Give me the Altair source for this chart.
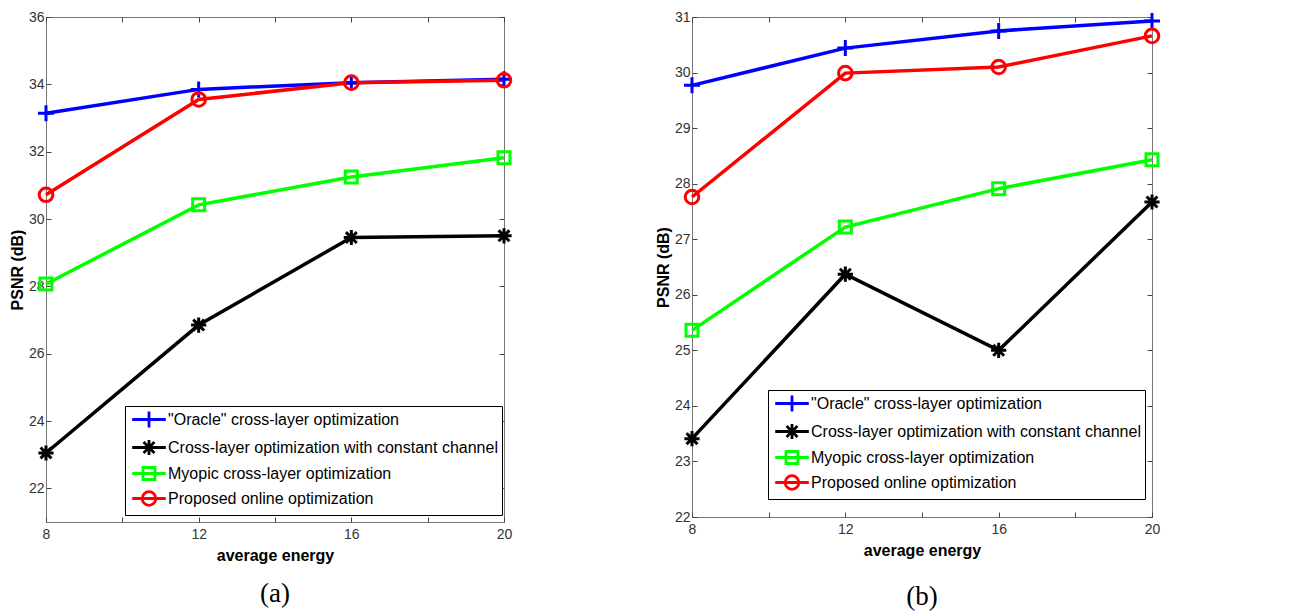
import altair as alt
import pandas as pd

energy = [8, 12, 16, 20]
series_names = [
    '"Oracle" cross-layer optimization',
    "Cross-layer optimization with constant channel",
    "Myopic cross-layer optimization",
    "Proposed online optimization",
]
series_colors = ["#0000FF", "#000000", "#00FF00", "#FF0000"]

# panel (a)
a_oracle = [33.14, 33.85, 34.05, 34.15]
a_constant = [23.05, 26.85, 29.45, 29.50]
a_myopic = [28.07, 30.42, 31.25, 31.82]
a_online = [30.72, 33.55, 34.05, 34.12]

# panel (b)
b_oracle = [29.77, 30.44, 30.75, 30.93]
b_constant = [23.41, 26.37, 25.00, 27.67]
b_myopic = [25.36, 27.22, 27.91, 28.43]
b_online = [27.76, 29.99, 30.10, 30.66]

x_ticks = [8, 10, 12, 14, 16, 18, 20]
a_y_ticks = [22, 24, 26, 28, 30, 32, 34, 36]
b_y_ticks = [22, 23, 24, 25, 26, 27, 28, 29, 30, 31]

# marker paths (unit = sqrt(size)/2 px)
marker_paths = [
    "M-1,0H1M0,-1V1",
    "M-0.95,0H0.95M0,-0.95V0.95M-0.68,-0.68L0.68,0.68M-0.68,0.68L0.68,-0.68",
    "M-0.75,-0.75H0.75V0.75H-0.75Z",
    "M-0.85,0A0.85,0.85 0 1,1 0.85,0A0.85,0.85 0 1,1 -0.85,0Z",
]
legend_paths = ["M-2.1,0H2.1" + p for p in marker_paths]


def build_df(values):
    rows = []
    for name, vals in zip(series_names, values):
        for e, v in zip(energy, vals):
            rows.append({"energy": e, "psnr": v, "series": name})
    return pd.DataFrame(rows)


SANS = "Liberation Sans, Arial, Helvetica, sans-serif"
TICK_COLOR = "#333333"


def panel(values, ydomain, yticks, W, H, lx, ly, caption, cap_offset):
    df = build_df(values)
    xscale = alt.Scale(domain=[8, 20], nice=False, zero=False)
    yscale = alt.Scale(domain=ydomain, nice=False, zero=False)
    cscale = alt.Scale(domain=series_names, range=series_colors)
    lshape = alt.Scale(domain=series_names, range=legend_paths)
    legend = alt.Legend(
        title=None, orient="none", legendX=lx, legendY=ly, direction="vertical",
        strokeColor="black", fillColor="white", padding=4, rowPadding=0,
        labelFont=SANS, labelFontSize=16, labelColor="black", labelLimit=0,
        symbolSize=256, symbolStrokeWidth=2.8, symbolOffset=10.5, labelOffset=9.5,
        symbolFillColor="transparent", symbolOpacity=1,
    )
    common_axis = dict(domain=False, grid=False, tickColor="#444444", tickSize=5,
                       offset=-5)
    label_props = dict(labelFont=SANS, labelFontSize=14, labelColor=TICK_COLOR)
    x_bottom = alt.Axis(orient="bottom", values=x_ticks,
                        labelExpr="datum.value % 4 == 0 ? datum.label : ''",
                        labelPadding=5, title="average energy", titleFont=SANS,
                        titleFontSize=16, titleFontWeight="bold", titleColor="black",
                        titlePadding=6, labelFlush=False, **common_axis, **label_props)
    y_left = alt.Axis(orient="left", values=yticks, labelPadding=2,
                      title="PSNR (dB)", titleFont=SANS,
                      titleFontSize=16, titleFontWeight="bold", titleColor="black",
                      titlePadding=3, **common_axis, **label_props)
    x_top = alt.Axis(orient="top", values=x_ticks, labels=False, title=None, **common_axis)
    y_right = alt.Axis(orient="right", values=yticks, labels=False, title=None, **common_axis)

    color_enc = alt.Color("series:N", scale=cscale, legend=legend)

    lines = alt.Chart(df).mark_line(strokeWidth=3.5).encode(
        x=alt.X("energy:Q", scale=xscale, axis=x_bottom),
        y=alt.Y("psnr:Q", scale=yscale, axis=y_left),
        color=color_enc,
    )
    marker_layers = []
    for name, path in zip(series_names, marker_paths):
        marker_layers.append(
            alt.Chart(df).transform_filter(alt.datum.series == name).mark_point(
                shape=path, filled=False, size=256, strokeWidth=3, opacity=1
            ).encode(
                x=alt.X("energy:Q", scale=xscale, axis=None),
                y=alt.Y("psnr:Q", scale=yscale, axis=None),
                color=color_enc,
            )
        )
    # legend + top/right axes layer: no rows pass the filter, scales keep their full domains
    legend_layer = alt.Chart(df).transform_filter("false").mark_point(
        filled=False, size=256, strokeWidth=2.8, opacity=1
    ).encode(
        x=alt.X("energy:Q", scale=xscale, axis=x_top),
        y=alt.Y("psnr:Q", scale=yscale, axis=y_right),
        color=color_enc,
        shape=alt.Shape("series:N", scale=lshape, legend=legend),
    )
    return alt.layer(lines, *marker_layers, legend_layer).resolve_axis(
        x="independent", y="independent"
    ).properties(
        width=W, height=H,
        title=alt.TitleParams(caption, orient="bottom", font="Liberation Serif, Times New Roman, serif",
                              fontSize=27, fontWeight="normal", color="black", offset=cap_offset),
    )


pa = panel([a_oracle, a_constant, a_myopic, a_online], [21, 36], a_y_ticks,
           458, 505, 79, 505 - 116, "(a)", 18)
pb = panel([b_oracle, b_constant, b_myopic, b_online], [22, 31], b_y_ticks,
           460, 500, 76, 500 - 127, "(b)", 26)

chart = alt.hconcat(pa, pb, spacing=135).resolve_scale(
    color="independent", shape="independent"
).resolve_legend(color="independent", shape="independent").properties(
    padding={"left": 0, "top": -2, "right": 0, "bottom": 0}
).configure_view(stroke="#777777", strokeWidth=1)

chart.save("out.html", embed_options={"renderer": "svg", "actions": False})
